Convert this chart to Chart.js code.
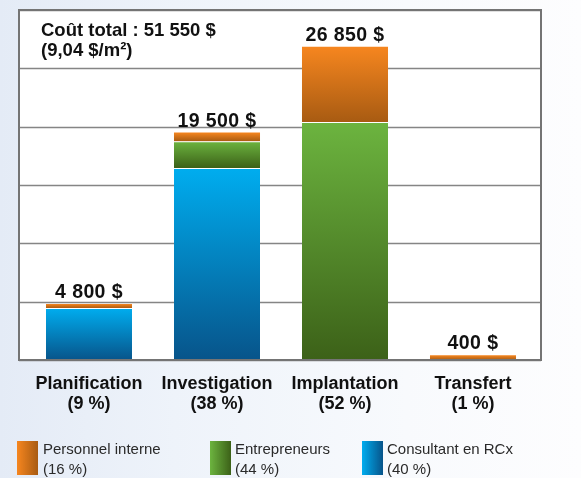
<!DOCTYPE html>
<html>
<head>
<meta charset="utf-8">
<script src="https://cdn.jsdelivr.net/npm/chart.js@4"></script>
<style>
  html, body { margin:0; padding:0; }
  body { width:581px; height:478px; overflow:hidden; position:relative;
    background: linear-gradient(to right, #e4ebf6 0%, #eef3fa 30%, #f8fafd 70%, #fdfdfe 100%);
    font-family: "Liberation Sans", Arial, sans-serif; }
  #wrap { position:absolute; left:0; top:0; width:581px; height:478px; }
  .title { position:absolute; left:41px; top:20px; font-weight:bold; font-size:18.5px; line-height:20px; color:#111; white-space:nowrap; }
  .leg { position:absolute; top:439px; font-size:15px; line-height:20px; color:#2a2a2a; white-space:nowrap; }
  .box { position:absolute; top:441px; width:21px; height:34px; }
</style>
</head>
<body>
<div id="wrap"><canvas id="c" width="581" height="478"></canvas></div>
<div class="title" id="title"></div>
<div id="legend"></div>
<script>
const categories = [["Planification","(9 %)"],["Investigation","(38 %)"],["Implantation","(52 %)"],["Transfert","(1 %)"]];
const consultant   = [4450, 16450, null, null];
const entrepreneurs = [null, 2300, 20400, null];
const personnel    = [350, 750, 6450, 400];
const totalLabels  = ["4 800 $", "19 500 $", "26 850 $", "400 $"];
const titleLines   = ["Coût total : 51 550 $", "(9,04 $/m²)"];
const legendNames  = ["Personnel interne", "Entrepreneurs", "Consultant en RCx"];
const legendShares = ["(16 %)", "(44 %)", "(40 %)"];
const yMax = 30000, yStep = 5000;

const palette = {
  orange: ["#f6861f", "#a85b12"],
  green:  ["#6cb43f", "#3c6118"],
  blue:   ["#00adef", "#07548a"]
};

document.getElementById('title').innerHTML = titleLines.join('<br>');
const legX = [[17,43],[210,235],[362,387]];
const legCols = [palette.orange, palette.green, palette.blue];
let lh = '';
legendNames.forEach((n,i)=>{
  lh += `<div class="box" style="left:${legX[i][0]}px;background:linear-gradient(to right, ${legCols[i][0]}, ${legCols[i][1]})"></div>`;
  lh += `<div class="leg" style="left:${legX[i][1]}px">${n}<br>${legendShares[i]}</div>`;
});
document.getElementById('legend').innerHTML = lh;

function segGradient(cols) {
  return function(ctx) {
    if (ctx.type !== 'data') return cols[0];
    const chart = ctx.chart, ys = chart.scales.y;
    if (!ys) return cols[0];
    const ds = chart.data.datasets;
    let start = 0;
    for (let k = 0; k < ctx.datasetIndex; k++) start += (ds[k].data[ctx.dataIndex] || 0);
    const end = start + (ds[ctx.datasetIndex].data[ctx.dataIndex] || 0);
    const yTop = ys.getPixelForValue(end), yBot = ys.getPixelForValue(start);
    if (!isFinite(yTop) || !isFinite(yBot) || yTop === yBot) return cols[0];
    const g = chart.ctx.createLinearGradient(0, yTop, 0, yBot);
    g.addColorStop(0, cols[0]);
    g.addColorStop(1, cols[1]);
    return g;
  };
}

const extL = 6, extR = 4;
const framePlugin = {
  id: 'frame',
  beforeDatasetsDraw(chart) {
    const {ctx, chartArea: a, scales: {y}} = chart;
    const L = a.left - extL, R = a.right + extR;
    ctx.save();
    ctx.fillStyle = '#ffffff';
    ctx.fillRect(L, a.top, R - L, a.bottom - a.top);
    ctx.strokeStyle = '#858585';
    ctx.lineWidth = 1.5;
    y.ticks.forEach(t => {
      const py = Math.round(y.getPixelForValue(t.value)) + 0.5;
      ctx.beginPath(); ctx.moveTo(L, py); ctx.lineTo(R, py); ctx.stroke();
    });
    ctx.restore();
  },
  afterDatasetsDraw(chart) {
    const {ctx, chartArea: a, scales: {x, y}} = chart;
    const L = a.left - extL, R = a.right + extR;
    ctx.save();
    ctx.strokeStyle = '#747474';
    ctx.lineWidth = 2;
    ctx.strokeRect(L, a.top, R - L, a.bottom - a.top);
    ctx.fillStyle = '#111';
    ctx.font = 'bold 19.5px "Liberation Sans", Arial, sans-serif';
    ctx.textAlign = 'center';
    ctx.textBaseline = 'alphabetic';
    try { ctx.letterSpacing = '0.4px'; } catch (e) {}
    const ds = chart.data.datasets;
    totalLabels.forEach((lab, i) => {
      let tot = 0; ds.forEach(d => tot += (d.data[i] || 0));
      const px = x.getPixelForValue(i);
      const py = y.getPixelForValue(tot);
      ctx.fillText(lab, px, py - 6);
    });
    ctx.restore();
  }
};

const sep = 'rgba(255,255,255,0.7)';
new Chart(document.getElementById('c'), {
  type: 'bar',
  data: {
    labels: categories,
    datasets: [
      { label: legendNames[2], data: consultant, backgroundColor: segGradient(palette.blue),
        borderColor: sep, borderWidth: {top:1, left:0, right:0, bottom:0}, borderSkipped: false },
      { label: legendNames[1], data: entrepreneurs, backgroundColor: segGradient(palette.green),
        borderColor: sep, borderWidth: {top:1, left:0, right:0, bottom:0}, borderSkipped: false },
      { label: legendNames[0], data: personnel, backgroundColor: segGradient(palette.orange), borderWidth: 0 }
    ]
  },
  options: {
    responsive: false,
    animation: false,
    events: [],
    layout: { padding: { left: 25, right: 44, top: 10, bottom: 58 } },
    plugins: { legend: { display: false }, tooltip: { enabled: false } },
    datasets: { bar: { categoryPercentage: 1, barPercentage: 0.672 } },
    scales: {
      x: {
        stacked: true,
        grid: { display: false, drawTicks: false },
        border: { display: false },
        ticks: { color: '#111', padding: 14, maxRotation: 0, autoSkip: false,
          font: { family: '"Liberation Sans", Arial, sans-serif', weight: 'bold', size: 18, lineHeight: 1.1 } },
        afterFit(scale) { scale.height = 60; }
      },
      y: {
        stacked: true, display: false, min: 0, max: yMax,
        ticks: { stepSize: yStep }
      }
    }
  },
  plugins: [framePlugin]
});
</script>
</body>
</html>
